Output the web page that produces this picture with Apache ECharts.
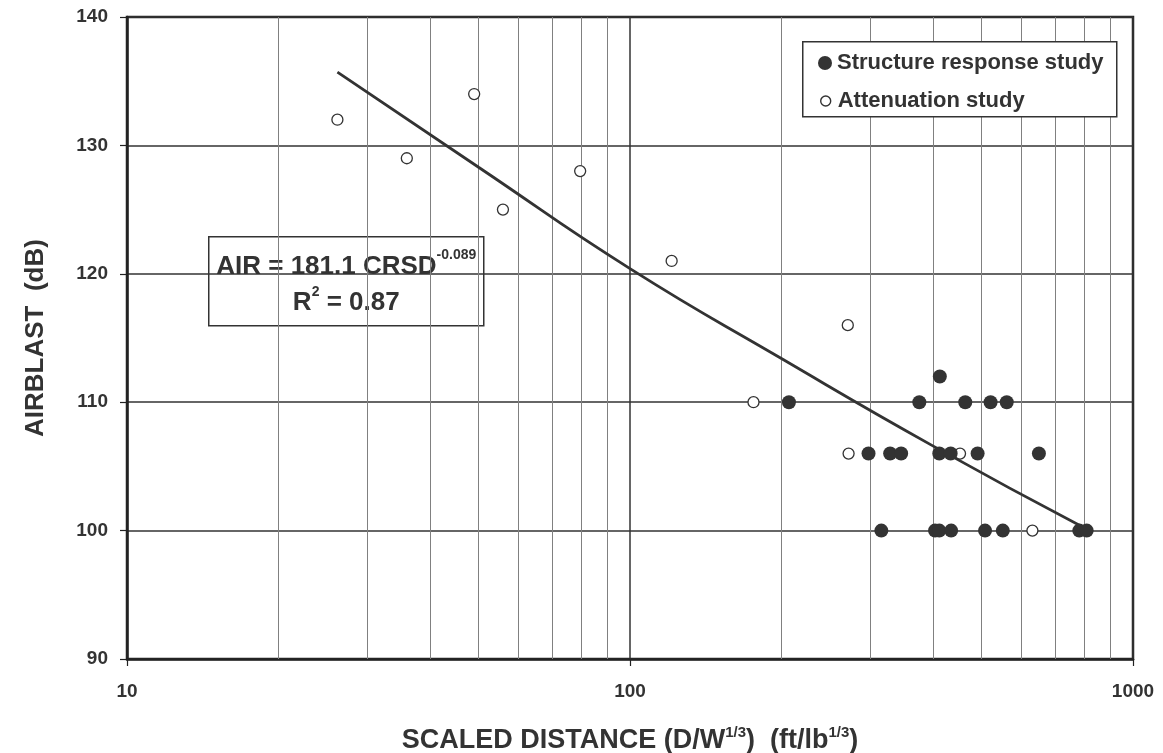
<!DOCTYPE html>
<html>
<head>
<meta charset="utf-8">
<script src="https://cdn.jsdelivr.net/npm/echarts@6/dist/echarts.min.js"></script>
<style>
html,body{margin:0;padding:0;background:#fff;}
#chart{width:1163px;height:753px;}
</style>
</head>
<body>
<div id="chart"></div>
<script>
// ---- data ----
const structureX = [207, 376, 413, 464, 521, 561, 298, 329, 346, 412, 434, 491, 650, 316, 404, 412, 435, 508, 551, 782, 809];
const structureY = [110, 110, 112, 110, 110, 110, 106, 106, 106, 106, 106, 106, 106, 100, 100, 100, 100, 100, 100, 100, 100];
const attenuationX = [26.2, 36.0, 49.0, 55.9, 79.6, 121, 176, 271, 272, 453, 631];
const attenuationY = [132, 129, 134, 125, 128, 121, 110, 116, 106, 106, 100];
const trendX = [26.2, 50, 100, 200, 400, 810];
const trendY = [135.7, 128.3, 120.4, 113.4, 106.6, 100.1];
const minorGridX = [20, 30, 40, 50, 60, 70, 80, 90, 200, 300, 400, 500, 600, 700, 800, 900];
const seriesNames = ['Structure response study', 'Attenuation study'];

const FONT = '"Liberation Sans", Arial, Helvetica, sans-serif';
const INK = '#333';

const zip = (xs, ys) => xs.map((x, i) => [x, ys[i]]);

const legendText = {fontSize: 22, fontWeight: 'bold', color: INK, fontFamily: FONT, lineHeight: 24};

const chart = echarts.init(document.getElementById('chart'), null, {renderer: 'canvas'});
chart.setOption({
  animation: false,
  backgroundColor: '#fff',
  textStyle: {fontFamily: FONT},
  grid: {left: 127, right: 30, top: 17, bottom: 94, containLabel: false, outerBoundsMode: 'none',
    show: true, borderColor: '#222', borderWidth: 2.5, backgroundColor: 'transparent'},
  xAxis: {
    type: 'log', logBase: 10, min: 10, max: 1000,
    axisLine: {show: true, onZero: false, lineStyle: {color: '#222', width: 2.5}},
    axisTick: {show: true, length: 7, lineStyle: {color: '#222', width: 1.2}},
    axisLabel: {color: INK, fontSize: 19, fontWeight: 'bold', fontFamily: FONT, margin: 23,
      formatter: v => String(Math.round(v))},
    splitLine: {show: true, lineStyle: {color: '#333', width: 1.5}},
    name: '{b|SCALED DISTANCE (D/W}{s|1/3}{b|)  (ft/lb}{s|1/3}{b|)}',
    nameLocation: 'middle', nameGap: 66,
    nameTextStyle: {
      rich: {
        b: {fontSize: 27, fontWeight: 'bold', color: INK, fontFamily: FONT, lineHeight: 32},
        s: {fontSize: 15, fontWeight: 'bold', color: INK, fontFamily: FONT, lineHeight: 2, verticalAlign: 'top'}
      }
    }
  },
  yAxis: {
    type: 'value', min: 90, max: 140, interval: 10,
    axisLine: {show: true, onZero: false, lineStyle: {color: '#222', width: 2.5}},
    axisTick: {show: true, length: 7, lineStyle: {color: '#222', width: 1.2}},
    axisLabel: {color: INK, fontSize: 19, fontWeight: 'bold', fontFamily: FONT, margin: 19},
    splitLine: {show: true, lineStyle: {color: '#333', width: 1.5}},
    name: 'AIRBLAST  (dB)',
    nameLocation: 'middle', nameGap: 78, nameRotate: 90,
    nameTextStyle: {fontSize: 26, fontWeight: 'bold', color: INK, fontFamily: FONT}
  },
  legend: [
    {
      left: 818, top: 51, padding: 0, z: 7,
      selectedMode: false,
      itemWidth: 14, itemHeight: 14, icon: 'circle',
      textStyle: legendText,
      data: [{name: seriesNames[0], itemStyle: {color: INK, borderWidth: 0}}]
    },
    {
      left: 820, top: 89, padding: 0, z: 7,
      selectedMode: false,
      itemWidth: 10, itemHeight: 10, icon: 'circle',
      textStyle: Object.assign({}, legendText, {padding: [0, 0, 0, 2]}),
      data: [{name: seriesNames[1], itemStyle: {color: '#fff', borderColor: INK, borderWidth: 1.4}}]
    }
  ],
  series: [
    {
      name: 'trend', type: 'line', data: zip(trendX, trendY),
      showSymbol: false, symbol: 'none', smooth: true,
      lineStyle: {color: INK, width: 2.8}, z: 3,
      markLine: {
        silent: true, symbol: 'none', animation: false,
        label: {show: false},
        lineStyle: {color: '#808080', width: 1, type: 'solid'},
        emphasis: {disabled: true},
        data: minorGridX.map(v => ({xAxis: v})),
        z: 1
      }
    },
    {
      name: seriesNames[1], type: 'scatter', data: zip(attenuationX, attenuationY),
      symbol: 'circle', symbolSize: 11,
      itemStyle: {color: '#fff', borderColor: INK, borderWidth: 1.3, opacity: 1}, z: 4
    },
    {
      name: seriesNames[0], type: 'scatter', data: zip(structureX, structureY),
      symbol: 'circle', symbolSize: 14,
      itemStyle: {color: INK, borderWidth: 0, opacity: 1}, z: 5
    }
  ],
  graphic: [
    {
      type: 'rect', left: 802, top: 41, z: 6,
      shape: {width: 314, height: 75},
      style: {fill: '#fff', stroke: INK, lineWidth: 1.5}
    },
    {
      type: 'group', left: 208, top: 236, z: 100,
      children: [
        {type: 'rect', shape: {x: 0, y: 0, width: 275, height: 89}, style: {fill: '#fff', stroke: INK, lineWidth: 1.5}},
        {
          type: 'text', x: 137.5, y: 48,
          style: {
            text: '{b|AIR = 181.1 CRSD}{s|-0.089}\n{b|R}{s|2}{b| = 0.87}',
            align: 'center', verticalAlign: 'middle',
            rich: {
              b: {fontSize: 26, fontWeight: 'bold', fill: INK, fontFamily: FONT, lineHeight: 36.5},
              s: {fontSize: 14, fontWeight: 'bold', fill: INK, fontFamily: FONT, lineHeight: 16, verticalAlign: 'top'}
            }
          }
        }
      ]
    }
  ]
});
</script>
</body>
</html>
